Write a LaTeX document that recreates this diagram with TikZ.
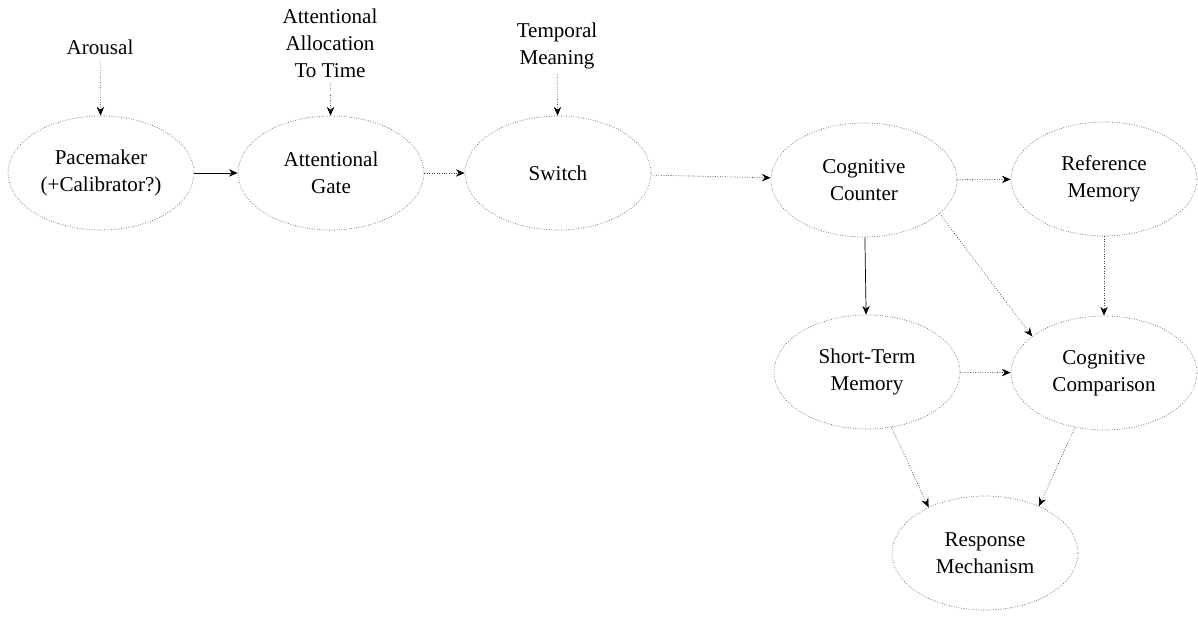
\documentclass[tikz,border=0pt]{standalone}
\usepackage{fontspec}
\setmainfont{Liberation Serif}
\usepackage{tikz}
\usetikzlibrary{arrows.meta}
\usetikzlibrary{shapes.geometric}
\tikzset{
    tnode/.style = {align=center, inner sep=0pt, text centered, font=\fontsize{12}{15.3}\selectfont},
    stage/.style = {tnode, ellipse, draw=black!65, densely dotted, thin, minimum width=3.72cm, minimum height=2.28cm},
    lbl/.style = {tnode, inner sep=3pt},
    flow/.style = {->, draw=black!75, densely dotted, thin},
    sflow/.style = {->, draw=black, thin}
}
\begin{document}
\begin{tikzpicture}[>={Stealth[length=5pt, width=4.2pt, black]}, x=0.02cm, y=-0.02cm]
    \useasboundingbox (0,0) rectangle (1198,617);
    % inputs
    \node [lbl] (arousal) at (100,47) {Arousal};
    \node [lbl] (alloc) at (330,43) {Attentional\\Allocation\\To Time};
    \node [lbl] (meaning) at (557,46) {Temporal\\Meaning};
    % stages
    \node [stage] (pace) at (101,173) {Pacemaker\\(+Calibrator?)};
    \node [stage] (gate) at (331,173) {Attentional\\Gate};
    \node [stage] (switch) at (558,173) {Switch};
    \node [stage] (counter) at (864,180) {Cognitive\\Counter};
    \node [stage] (refmem) at (1104,179) {Reference\\Memory};
    \node [stage] (stm) at (867,372) {Short-Term\\Memory};
    \node [stage] (comp) at (1104,373) {Cognitive\\Comparison};
    \node [stage] (resp) at (985,553) {Response\\Mechanism};
    % connections
    \draw [flow] (arousal) -- (pace);
    \draw [flow] (alloc) -- (gate);
    \draw [flow] (meaning) -- (switch);
    \draw [sflow] (pace) -- (gate);
    \draw [flow] (gate) -- (switch);
    \draw [flow] (switch) -- (counter);
    \draw [flow] (counter) -- (refmem);
    \draw [sflow] (counter) -- (stm);
    \draw [flow] (counter.-24) -- (comp.153);
    \draw [flow] (refmem) -- (comp);
    \draw [flow] (stm) -- (comp);
    \draw [flow] (stm.-66) -- (resp.141);
    \draw [flow] (comp.-118) -- (resp.41);
\end{tikzpicture}
\end{document}
